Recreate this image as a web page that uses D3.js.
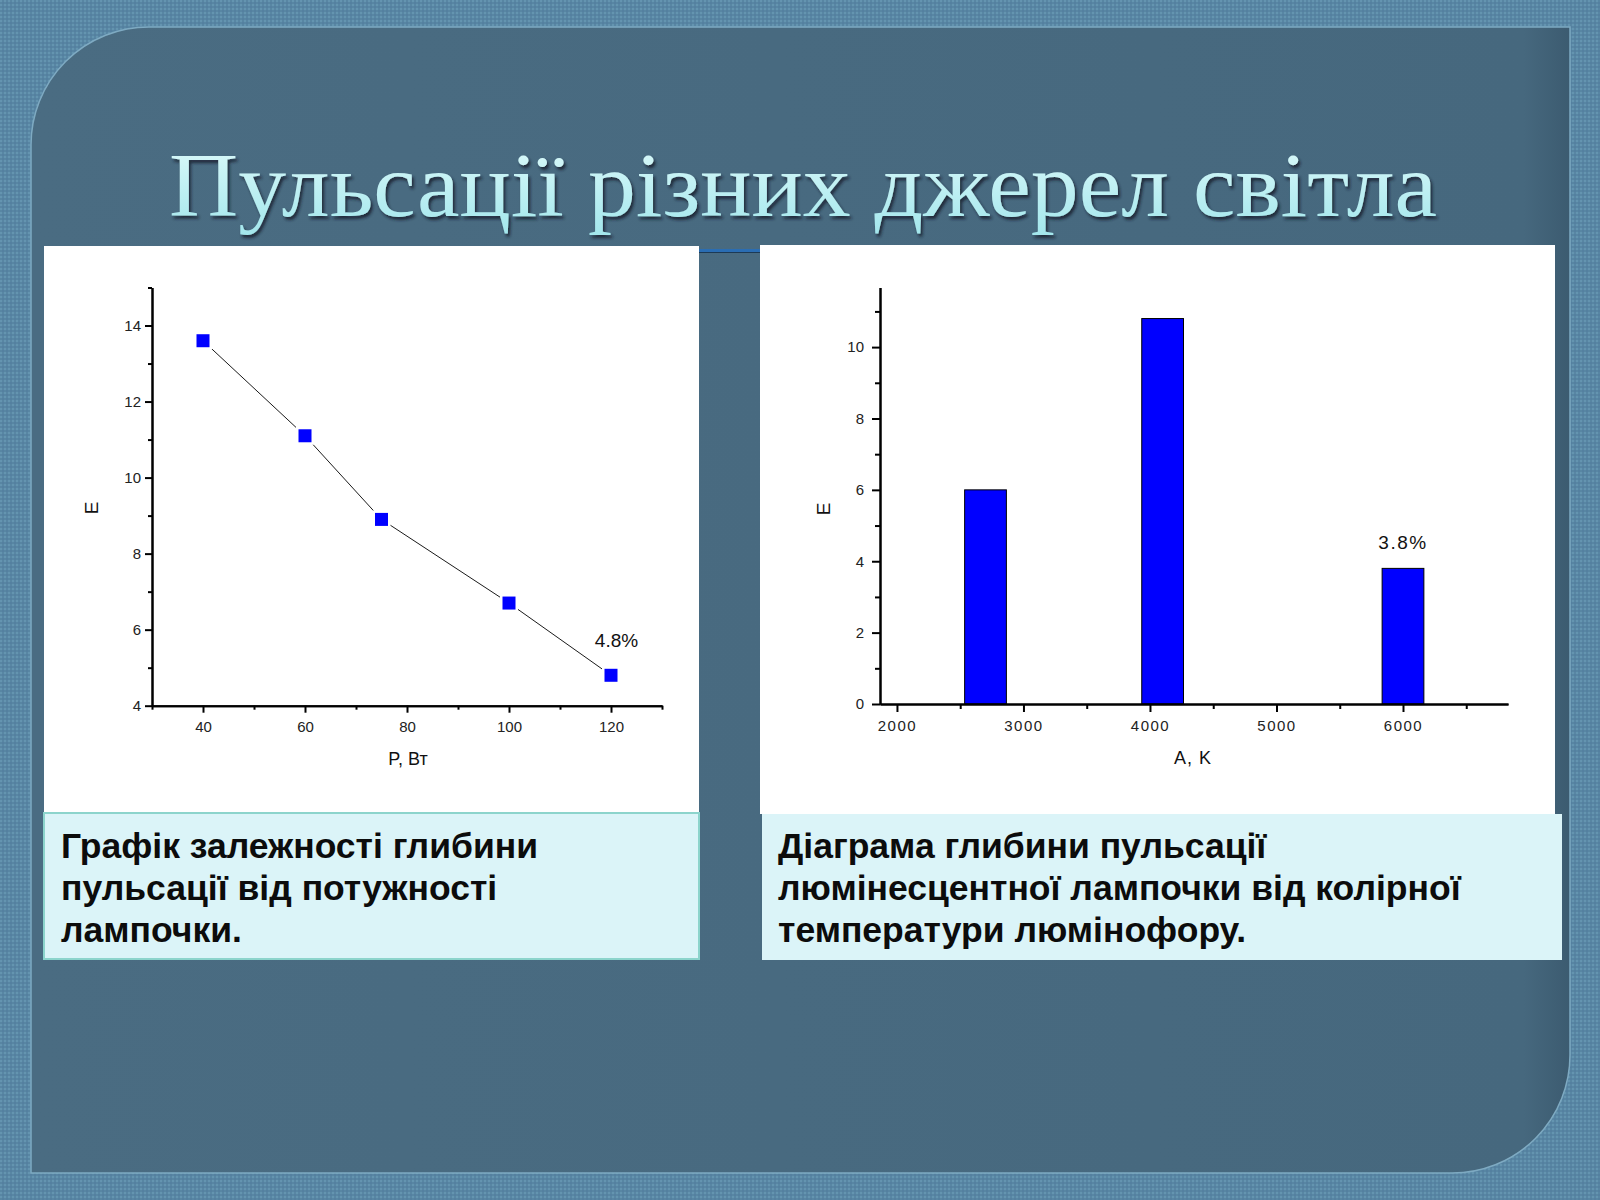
<!DOCTYPE html>
<html>
<head>
<meta charset="utf-8">
<script src="https://cdn.jsdelivr.net/npm/d3@7"></script>
<style>
  body { margin: 0; background: #5887a4; }
  svg { display: block; }
</style>
</head>
<body>
<svg id="slide" width="1600" height="1200"></svg>
<script>
// left chart: pulsation depth vs lamp power
const powerW = [40, 60, 75, 100, 120];
const depthByPower = [13.6, 11.1, 8.9, 6.7, 4.8];
const powerTicks = [40, 60, 80, 100, 120];
const powerMinor = [30, 50, 70, 90, 110, 130];
const depthTicksL = [4, 6, 8, 10, 12, 14];
const depthMinorL = [5, 7, 9, 11, 13, 15];

// right chart: pulsation depth vs colour temperature
const colorTempK = [2700, 4100, 6000];
const depthByTemp = [6.0, 10.8, 3.8];
const tempTicks = [2000, 3000, 4000, 5000, 6000];
const tempMinor = [2500, 3500, 4500, 5500, 6500];
const depthTicksR = [0, 2, 4, 6, 8, 10];
const depthMinorR = [1, 3, 5, 7, 9, 11];

const title = "Пульсації різних джерел світла";
const captionLeft = ["Графік залежності глибини", "пульсації від потужності", "лампочки."];
const captionRight = ["Діаграма глибини пульсації", "люмінесцентної лампочки від колірної", "температури люмінофору."];

window.addEventListener('load', e => {
    drawSlide();
    drawLineChart();
    drawBarChart();
});

function drawSlide() {
    let svg = d3.select("#slide");
    let defs = svg.append("defs");

    let pat = defs.append("pattern").attr("id", "dots")
        .attr("width", 4).attr("height", 4).attr("patternUnits", "userSpaceOnUse");
    pat.append("rect").attr("width", 4).attr("height", 4).attr("fill", "#5886a3");
    pat.append("rect").attr("width", 2).attr("height", 2).attr("fill", "#6494b0");
    pat.append("rect").attr("x", 2).attr("y", 2).attr("width", 2).attr("height", 2).attr("fill", "#5480a0");

    let grad = defs.append("linearGradient").attr("id", "panelGrad")
        .attr("x1", 0).attr("y1", 0).attr("x2", 1).attr("y2", 0);
    grad.append("stop").attr("offset", "0%").attr("stop-color", "#4a6c82");
    grad.append("stop").attr("offset", "97%").attr("stop-color", "#46687e");
    grad.append("stop").attr("offset", "100%").attr("stop-color", "#3c5b70");

    let titleGrad = defs.append("linearGradient").attr("id", "titleGrad")
        .attr("x1", 0).attr("y1", 0).attr("x2", 0).attr("y2", 1);
    titleGrad.append("stop").attr("offset", "0%").attr("stop-color", "#e0fbfb");
    titleGrad.append("stop").attr("offset", "100%").attr("stop-color", "#a2e6ec");

    let shadow = defs.append("filter").attr("id", "shadow")
        .attr("x", "-5%").attr("y", "-20%").attr("width", "110%").attr("height", "150%");
    shadow.append("feDropShadow").attr("dx", 2).attr("dy", 3).attr("stdDeviation", 1.5)
        .attr("flood-color", "#14232e").attr("flood-opacity", 0.85);

    svg.append("rect").attr("width", 1600).attr("height", 1200).attr("fill", "url(#dots)");

    // main panel with two rounded corners
    let x0 = 31, y0 = 27, x1 = 1570, y1 = 1173, r = 118;
    let p = d3.path();
    p.moveTo(x0 + r, y0);
    p.lineTo(x1, y0);
    p.lineTo(x1, y1 - r);
    p.arcTo(x1, y1, x1 - r, y1, r);
    p.lineTo(x0, y1);
    p.lineTo(x0, y0 + r);
    p.arcTo(x0, y0, x0 + r, y0, r);
    p.closePath();
    svg.append("path").attr("d", p.toString())
        .attr("fill", "url(#panelGrad)")
        .attr("stroke", "#7eaac2").attr("stroke-width", 1.5);

    svg.append("text")
        .attr("x", 169).attr("y", 216)
        .attr("textLength", 1268).attr("lengthAdjust", "spacingAndGlyphs")
        .attr("font-family", "Liberation Serif, serif")
        .attr("font-size", 92)
        .attr("fill", "url(#titleGrad)")
        .attr("filter", "url(#shadow)")
        .text(title);

    // title underline, mostly hidden behind the charts
    svg.append("rect").attr("x", 680).attr("y", 249).attr("width", 100).attr("height", 3).attr("fill", "#2a6db3");
    svg.append("rect").attr("x", 680).attr("y", 252).attr("width", 100).attr("height", 1).attr("fill", "#1d3a55");

    // chart backgrounds
    svg.append("rect").attr("x", 44).attr("y", 246).attr("width", 655).attr("height", 568).attr("fill", "#fff");
    svg.append("rect").attr("x", 760).attr("y", 245).attr("width", 795).attr("height", 569).attr("fill", "#fff");

    // captions
    svg.append("rect").attr("x", 44).attr("y", 813).attr("width", 655).attr("height", 146)
        .attr("fill", "#dbf4f8").attr("stroke", "#8cd4cc").attr("stroke-width", 2);
    svg.append("rect").attr("x", 762).attr("y", 814).attr("width", 800).attr("height", 146)
        .attr("fill", "#dbf4f8");

    svg.append("g").selectAll("text").data(captionLeft).enter().append("text")
        .attr("x", 61).attr("y", (d, i) => 858 + i * 42)
        .attr("font-family", "Liberation Sans, Arial, sans-serif")
        .attr("font-weight", "bold").attr("font-size", 35.5).attr("fill", "#0c0c0c")
        .text(d => d);
    svg.append("g").selectAll("text").data(captionRight).enter().append("text")
        .attr("x", 778).attr("y", (d, i) => 858 + i * 42)
        .attr("font-family", "Liberation Sans, Arial, sans-serif")
        .attr("font-weight", "bold").attr("font-size", 35.5).attr("fill", "#0c0c0c")
        .text(d => d);
}

function styleAxis(g, labels) {
    g.select(".domain").attr("stroke", "#000").attr("stroke-width", 2);
    g.selectAll(".tick line").attr("stroke", "#000").attr("stroke-width", 2);
    g.selectAll(".tick text")
        .attr("font-family", "Liberation Sans, Arial, sans-serif")
        .attr("font-size", 15).attr("fill", "#222");
    if (!labels) g.selectAll(".tick text").remove();
}

function drawLineChart() {
    let svg = d3.select("#slide");
    let xScale = d3.scaleLinear().domain([30, 130]).range([152, 662]);
    let yScale = d3.scaleLinear().domain([4, 15]).range([705.7, 287.5]);

    let gx = svg.append("g").attr("transform", "translate(0,705.7)");
    gx.append("g").call(d3.axisBottom(xScale).tickValues(powerMinor).tickSize(4).tickSizeOuter(0))
      .call(g => styleAxis(g, false));
    gx.append("g").call(d3.axisBottom(xScale).tickValues(powerTicks).tickSize(7).tickPadding(9).tickSizeOuter(0))
      .call(g => styleAxis(g, true));

    let gy = svg.append("g").attr("transform", "translate(152,0)");
    gy.append("g").call(d3.axisLeft(yScale).tickValues(depthMinorL).tickSize(4).tickSizeOuter(0))
      .call(g => styleAxis(g, false));
    gy.append("g").call(d3.axisLeft(yScale).tickValues(depthTicksL).tickSize(7).tickPadding(4).tickSizeOuter(0))
      .call(g => styleAxis(g, true));

    let pts = powerW.map((p, i) => [p, depthByPower[i]]);
    svg.append("path")
        .attr("d", d3.line().x(d => xScale(d[0])).y(d => yScale(d[1]))(pts))
        .attr("fill", "none").attr("stroke", "#000").attr("stroke-width", 0.9);

    let m = 13;
    svg.selectAll(".marker").data(pts).enter().append("rect")
        .attr("class", "marker")
        .attr("x", d => xScale(d[0]) - m / 2)
        .attr("y", d => yScale(d[1]) - m / 2)
        .attr("width", m).attr("height", m)
        .attr("fill", "#0000ff")
        .attr("stroke", "#fff").attr("stroke-width", 5)
        .style("paint-order", "stroke");

    let last = pts[pts.length - 1];
    svg.append("text")
        .attr("x", xScale(last[0]) + 5.5).attr("y", yScale(last[1]) - 28)
        .attr("text-anchor", "middle")
        .attr("font-family", "Liberation Sans, Arial, sans-serif")
        .attr("font-size", 19).attr("fill", "#111")
        .text(last[1] + "%");

    svg.append("text")
        .attr("x", 408).attr("y", 765).attr("text-anchor", "middle")
        .attr("font-family", "Liberation Sans, Arial, sans-serif")
        .attr("font-size", 18).attr("fill", "#111")
        .text("P, Вт");
    svg.append("text")
        .attr("transform", "translate(98,508) rotate(-90)").attr("text-anchor", "middle")
        .attr("font-family", "Liberation Sans, Arial, sans-serif")
        .attr("font-size", 19).attr("fill", "#111")
        .text("E");
}

function drawBarChart() {
    let svg = d3.select("#slide");
    let xScale = d3.scaleLinear().domain([1866, 6830]).range([880, 1508]);
    let yScale = d3.scaleLinear().domain([0, 11.67]).range([704, 287.5]);
    let barWidthK = 330;

    svg.selectAll(".bar").data(colorTempK).enter().append("rect")
        .attr("class", "bar")
        .attr("x", d => xScale(d - barWidthK / 2))
        .attr("y", (d, i) => yScale(depthByTemp[i]))
        .attr("width", d => xScale(d + barWidthK / 2) - xScale(d - barWidthK / 2))
        .attr("height", (d, i) => yScale(0) - yScale(depthByTemp[i]))
        .attr("fill", "#0000ff").attr("stroke", "#000").attr("stroke-width", 1);

    let gx = svg.append("g").attr("transform", "translate(0,704)");
    gx.append("g").call(d3.axisBottom(xScale).tickValues(tempMinor).tickSize(5).tickSizeOuter(0))
      .call(g => styleAxis(g, false));
    gx.append("g").call(d3.axisBottom(xScale).tickValues(tempTicks).tickSize(8).tickPadding(8)
        .tickSizeOuter(0).tickFormat(d3.format("d")))
      .call(g => styleAxis(g, true));
    gx.selectAll(".tick text").attr("letter-spacing", 1.5);

    let gy = svg.append("g").attr("transform", "translate(880,0)");
    gy.append("g").call(d3.axisLeft(yScale).tickValues(depthMinorR).tickSize(5).tickSizeOuter(0))
      .call(g => styleAxis(g, false));
    gy.append("g").call(d3.axisLeft(yScale).tickValues(depthTicksR).tickSize(8).tickPadding(8).tickSizeOuter(0))
      .call(g => styleAxis(g, true));

    let li = colorTempK.length - 1;
    svg.append("text")
        .attr("x", xScale(colorTempK[li])).attr("y", yScale(depthByTemp[li]) - 19)
        .attr("text-anchor", "middle").attr("letter-spacing", 1.5)
        .attr("font-family", "Liberation Sans, Arial, sans-serif")
        .attr("font-size", 19).attr("fill", "#111")
        .text(depthByTemp[li].toFixed(1) + "%");

    svg.append("text")
        .attr("x", 1193).attr("y", 764).attr("text-anchor", "middle").attr("letter-spacing", 1)
        .attr("font-family", "Liberation Sans, Arial, sans-serif")
        .attr("font-size", 18).attr("fill", "#111")
        .text("A, K");
    svg.append("text")
        .attr("transform", "translate(830,509) rotate(-90)").attr("text-anchor", "middle")
        .attr("font-family", "Liberation Sans, Arial, sans-serif")
        .attr("font-size", 19).attr("fill", "#111")
        .text("E");
}
</script>
</body>
</html>
